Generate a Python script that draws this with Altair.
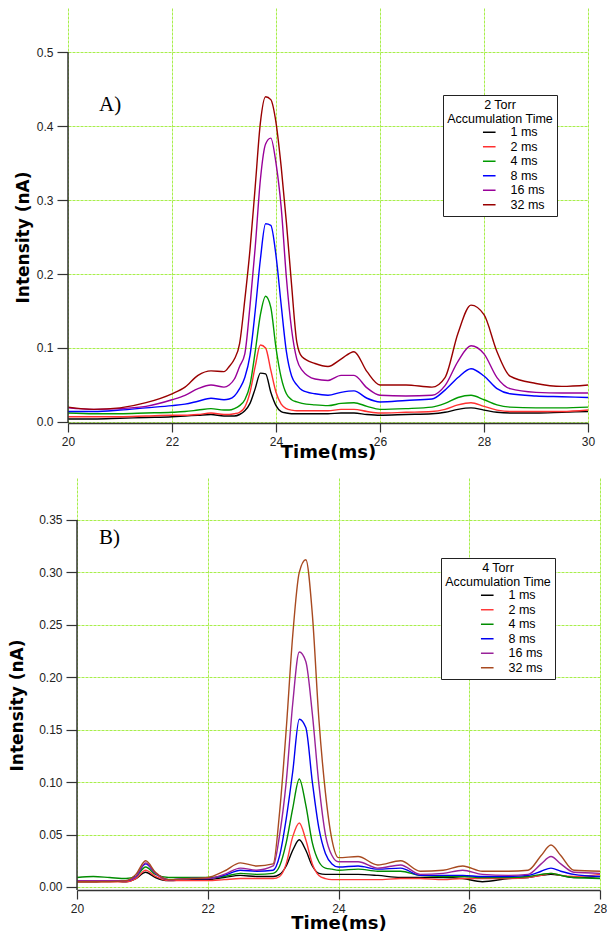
import altair as alt
import pandas as pd

SERIES = ["1 ms", "2 ms", "4 ms", "8 ms", "16 ms", "32 ms"]

# ---------------- Panel A : 2 Torr ----------------
time_a = [20, 20.5, 21, 21.5, 22, 22.25, 22.5, 22.75,
          23.0, 23.1, 23.2, 23.3, 23.4, 23.5, 23.6, 23.7, 23.8, 23.9, 24.0, 24.1, 24.2, 24.3, 24.4, 24.5,
          24.75, 25, 25.25, 25.5, 25.75, 26,
          26.5, 27, 27.25, 27.5, 27.75, 28, 28.25, 28.5,
          29, 29.5, 30]
a_1ms = [.004, .004, .005, .006, .007, .008, .009, .010,
         .008, .008, .008, .010, .015, .025, .045, .066, .065, .040, .022, .014, .012, .011, .011, .011,
         .011, .011, .012, .012, .010, .009,
         .010, .011, .013, .017, .019, .016, .013, .012,
         .012, .013, .014]
a_2ms = [.007, .007, .007, .008, .009, .009, .010, .012,
         .010, .010, .011, .013, .020, .040, .075, .104, .100, .070, .040, .024, .018, .016, .015, .015,
         .015, .015, .017, .017, .014, .012,
         .013, .014, .017, .023, .026, .021, .016, .014,
         .014, .014, .016]
a_4ms = [.012, .011, .011, .012, .013, .014, .016, .018,
         .016, .016, .018, .022, .030, .050, .095, .145, .170, .155, .100, .060, .038, .030, .027, .025,
         .023, .022, .025, .026, .021, .017,
         .018, .020, .025, .033, .036, .030, .023, .020,
         .019, .019, .020]
a_8ms = [.014, .014, .016, .019, .022, .024, .028, .032,
         .030, .031, .035, .045, .060, .090, .150, .220, .268, .266, .225, .158, .095, .062, .050, .043,
         .038, .036, .040, .042, .032, .027,
         .029, .031, .043, .060, .072, .062, .045, .038,
         .035, .034, .033]
a_16ms = [.019, .017, .018, .021, .030, .036, .045, .050,
          .047, .050, .058, .075, .092, .157, .236, .328, .376, .384, .350, .290, .195, .125, .085, .070,
          .058, .056, .063, .063, .046, .036,
          .035, .036, .049, .082, .103, .092, .060, .045,
          .040, .039, .039]
a_32ms = [.020, .017, .019, .026, .038, .047, .063, .069,
          .068, .075, .085, .106, .165, .233, .318, .405, .440, .436, .405, .345, .270, .185, .108, .088,
          .079, .075, .085, .095, .068, .050,
          .050, .047, .060, .120, .158, .145, .095, .062,
          .052, .048, .050]
colors_a = ["#000000", "#ff3030", "#009a00", "#0000ff", "#990099", "#990000"]

# ---------------- Panel B : 4 Torr ----------------
time_b = [20, 20.25, 20.5, 20.75, 20.9, 21.05, 21.2, 21.4,
          21.75, 22, 22.25, 22.5, 22.75,
          23.0, 23.1, 23.2, 23.3, 23.4, 23.5, 23.6, 23.7, 23.8, 23.9, 24.0,
          24.3, 24.6, 24.95, 25.25, 25.6, 25.9, 26.2, 26.6, 26.9,
          27.1, 27.25, 27.4, 27.6, 28]
b_1ms = [.005, .005, .006, .005, .008, .014, .009, .006,
         .007, .007, .009, .011, .010,
         .010, .012, .020, .035, .045, .035, .020, .013, .012, .012, .012,
         .012, .011, .009, .009, .009, .008, .005, .008, .009,
         .011, .012, .011, .009, .010]
b_2ms = [.005, .005, .005, .005, .008, .016, .010, .006,
         .006, .006, .007, .008, .008,
         .008, .010, .022, .048, .061, .045, .022, .011, .008, .007, .007,
         .007, .007, .008, .008, .007, .008, .008, .008, .009,
         .011, .013, .011, .010, .012]
b_4ms = [.009, .010, .009, .008, .010, .019, .012, .009,
         .009, .009, .010, .013, .012,
         .013, .020, .042, .075, .103, .078, .042, .024, .018, .017, .016,
         .017, .015, .015, .011, .010, .010, .009, .009, .010,
         .012, .013, .011, .009, .008]
b_8ms = [.006, .006, .006, .006, .010, .022, .013, .007,
         .008, .008, .011, .016, .015,
         .016, .030, .065, .110, .160, .152, .100, .056, .032, .022, .019,
         .020, .017, .018, .011, .011, .011, .010, .010, .011,
         .015, .018, .015, .012, .010]
b_16ms = [.006, .006, .006, .006, .010, .023, .013, .007,
          .008, .008, .012, .018, .016,
          .020, .050, .100, .175, .224, .215, .165, .098, .050, .030, .024,
          .024, .018, .021, .012, .013, .016, .012, .011, .012,
          .022, .029, .022, .014, .013]
b_32ms = [.005, .005, .005, .006, .012, .025, .014, .007,
          .008, .009, .015, .023, .020,
          .022, .072, .150, .240, .300, .312, .260, .160, .090, .045, .028,
          .029, .021, .025, .015, .016, .020, .015, .015, .016,
          .030, .040, .030, .016, .015]
colors_b = ["#000000", "#ff3a3a", "#008c00", "#0000f0", "#992299", "#a84a20"]

GRID = "#a8ee4c"
AXIS = "#333333"
LEGEND_SYMBOL = "M-1.8,0L1.8,0"


def panel(time, series, colors, x_dom, x_ticks, y_dom, y_ticks, y_fmt, width, height,
          legend_title, legend_xy, tag, tag_xy, ytitle_xy, xtitle_y):
    rows = []
    for name, vals in zip(SERIES, series):
        for t, v in zip(time, vals):
            rows.append({"t": t, "v": v, "s": name})
    df = pd.DataFrame(rows)

    x_axis = alt.Axis(values=x_ticks, format="d", title="Time(ms)", grid=True,
                      gridColor=GRID, gridDash=[3, 1], gridWidth=1,
                      domainColor=AXIS, domainWidth=1.5, tickColor=AXIS, tickSize=9, tickWidth=1.2,
                      labelFont="Liberation Sans", labelFontSize=12, labelColor="#222222",
                      labelPadding=4, labelFlush=False,
                      titleFont="DejaVu Sans", titleFontSize=18, titleFontWeight="bold",
                      titleColor="#000000", titleBaseline="middle", titleY=xtitle_y)
    y_axis = alt.Axis(values=y_ticks, format=y_fmt, title="Intensity (nA)", grid=True,
                      gridColor=GRID, gridDash=[3, 1], gridWidth=1, domain=False,
                      tickColor=AXIS, tickSize=11, tickWidth=1.2,
                      labelFont="Liberation Sans", labelFontSize=12, labelColor="#222222",
                      labelPadding=4, labelFlush=False,
                      titleFont="DejaVu Sans", titleFontSize=17, titleFontWeight="bold",
                      titleColor="#000000", titleBaseline="middle", titleAlign="center",
                      titleAngle=270, titleX=ytitle_xy[0], titleY=ytitle_xy[1])

    lines = alt.Chart(df).mark_line(strokeWidth=1.4, interpolate="monotone").encode(
        x=alt.X("t:Q", scale=alt.Scale(domain=x_dom, nice=False, zero=False), axis=x_axis),
        y=alt.Y("v:Q", scale=alt.Scale(domain=y_dom, nice=False, zero=False), axis=y_axis),
        color=alt.Color("s:N", scale=alt.Scale(domain=SERIES, range=colors),
                        legend=alt.Legend(title=legend_title, orient="none",
                                          legendX=legend_xy[0], legendY=legend_xy[1],
                                          strokeColor="#222222", fillColor="#ffffff",
                                          padding=4, titleAnchor="middle", titleAlign="center",
                                          titleFont="Liberation Sans", titleFontSize=12.5,
                                          titleFontWeight="normal", titleColor="#000000",
                                          titleLineHeight=13.5, titlePadding=1,
                                          labelFont="Liberation Sans", labelFontSize=12.5,
                                          labelColor="#000000", labelOffset=15,
                                          symbolType=LEGEND_SYMBOL, symbolSize=49,
                                          symbolFillColor="transparent",
                                          symbolStrokeWidth=1.5, symbolOffset=28,
                                          rowPadding=1.5)),
        order=alt.Order("t:Q"),
    )

    axis_df = pd.DataFrame({"t": [x_dom[0]], "v": [y_dom[0]], "v2": [y_ticks[-1]]})
    y_line = alt.Chart(axis_df).mark_rule(color=AXIS, strokeWidth=1.5).encode(
        x="t:Q", y="v:Q", y2="v2:Q")

    tag_df = pd.DataFrame({"tag": [tag]})
    tag_text = alt.Chart(tag_df).mark_text(font="Liberation Serif", fontSize=21, align="left",
                                           baseline="middle", color="#000000").encode(
        text="tag:N", x=alt.value(tag_xy[0]), y=alt.value(tag_xy[1]))

    return alt.layer(lines, y_line, tag_text).properties(width=width, height=height)


chart_a = panel(time_a, [a_1ms, a_2ms, a_4ms, a_8ms, a_16ms, a_32ms], colors_a,
                [20, 30], [20, 22, 24, 26, 28, 30],
                [-0.0015, 0.56], [0.0, 0.1, 0.2, 0.3, 0.4, 0.5], ".1f", 520, 415,
                ["2 Torr", "Accumulation Time"], (375, 87), "A)", (31, 97), (-45, 229), 29)

chart_b = panel(time_b, [b_1ms, b_2ms, b_4ms, b_8ms, b_16ms, b_32ms], colors_b,
                [20, 28], [20, 22, 24, 26, 28],
                [-0.0029, 0.39], [0.0, 0.05, 0.10, 0.15, 0.20, 0.25, 0.30, 0.35], ".2f", 523, 412,
                ["4 Torr", "Accumulation Time"], (373, 80), "B)", (22, 60), (-60, 227), 33)

spacer = alt.Chart(pd.DataFrame({"a": [0]})).mark_point(opacity=0).properties(width=9, height=412)

chart = alt.vconcat(
    chart_a,
    alt.hconcat(spacer, chart_b, spacing=0, bounds="flush"),
    spacing=55, bounds="flush",
).resolve_scale(color="independent").resolve_legend(color="independent").properties(
    padding={"left": 0, "top": 0, "right": 0, "bottom": 0}
).configure(background="#ffffff").configure_view(stroke=None)

chart.save("out.html", embed_options={"renderer": "svg", "actions": False})
